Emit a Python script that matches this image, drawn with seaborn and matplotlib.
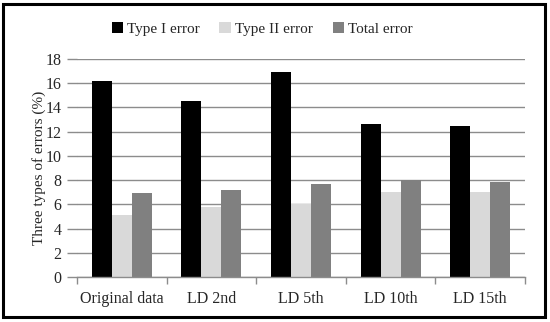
import pandas as pd
import matplotlib
matplotlib.use("Agg")
import matplotlib.pyplot as plt
import seaborn as sns
from matplotlib.patches import Rectangle

categories = ["Original data", "LD 2nd", "LD 5th", "LD 10th", "LD 15th"]
series = ["Type I error", "Type II error", "Total error"]
type1 = [16.2, 14.5, 16.9, 12.6, 12.5]
type2 = [5.1, 5.8, 6.0, 7.05, 7.0]
total = [6.9, 7.2, 7.7, 8.0, 7.85]
colors = ["#000000", "#d9d9d9", "#808080"]

rows = []
for name, vals in zip(series, [type1, type2, total]):
    for c, v in zip(categories, vals):
        rows.append({"cat": c, "series": name, "value": v})
df = pd.DataFrame(rows)

sns.set_style("white")
plt.rcParams["font.family"] = ["Liberation Serif", "DejaVu Serif"]

fig = plt.figure(figsize=(5.5, 3.22), dpi=100)
ax = fig.add_axes([0.14, 0.1398, 0.8145, 0.677])

sns.barplot(data=df, x="cat", y="value", hue="series", palette=colors,
            order=categories, hue_order=series, width=0.67, saturation=1,
            edgecolor="none", linewidth=0, ax=ax)

ax.set_ylim(0, 18)
ax.set_xlim(-0.5, len(categories) - 0.5)
ax.set_yticks(range(0, 19, 2))
ax.yaxis.grid(True, color="#8c8c8c", linewidth=1)
ax.set_axisbelow(True)
for s in ["top", "right", "left"]:
    ax.spines[s].set_visible(False)
ax.spines["bottom"].set_color("#8c8c8c")
ax.spines["bottom"].set_linewidth(1)

ax.set_xticks(range(len(categories)))
ax.set_xticklabels(categories, fontsize=11.5)
ax.set_xticks([i - 0.5 for i in range(len(categories) + 1)], minor=True)
ax.tick_params(axis="x", which="major", length=0, pad=10)
ax.tick_params(axis="x", which="minor", length=5, color="#8c8c8c", width=1, direction="out", bottom=True)
ax.tick_params(axis="y", length=7, color="#8c8c8c", width=1, labelsize=11.5, pad=4, left=True)
ax.set_xlabel("")
ax.set_ylabel("Three types of errors (%)", fontsize=11, labelpad=0)

ax.legend(title=None, loc="center", bbox_to_anchor=(0.413, 1.138), ncol=3,
          frameon=False, fontsize=11, handlelength=0.75, handleheight=0.75,
          handletextpad=0.25, columnspacing=1.3)

fig.patches.append(Rectangle((0.006, 0.017), 0.985, 0.972, transform=fig.transFigure,
                             fill=False, edgecolor="black", linewidth=2.2))

fig.savefig("out.png", dpi=100)
